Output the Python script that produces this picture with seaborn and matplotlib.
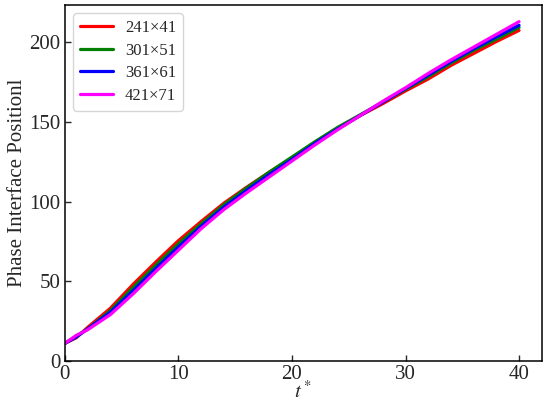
import pandas as pd
import matplotlib.pyplot as plt
import seaborn as sns

# time points (t*)
t = [0, 1, 2, 4, 6, 8, 10, 12, 14, 16, 18, 20, 22, 24, 26, 28, 30, 32, 34, 36, 38, 40]

# phase interface position per grid
pos_241 = [11, 14.5, 21, 33, 48, 62, 75.5, 87.5, 99, 109, 118.5, 127.5, 137, 146, 154, 161.5, 169.5, 177, 185.5, 193, 200.5, 207.5]
pos_301 = [11, 15.5, 20, 31.5, 46, 60, 73.5, 86, 98, 108.5, 118.5, 128, 137.5, 146.5, 154.5, 162.5, 170.5, 178.5, 187, 195, 202, 209.4]
pos_361 = [11, 15, 20, 30.5, 44, 58, 71.5, 84.5, 96.5, 107, 117, 126.5, 136.5, 145.5, 154, 162.5, 171, 179.5, 188, 196, 203.5, 210.7]
pos_421 = [11, 16, 19.5, 29, 42, 56, 69.5, 83, 95, 105.5, 115.5, 125.5, 135.5, 145, 154, 163, 171.5, 180.5, 189, 197, 205, 213]

grids = ["241×41", "301×51", "361×61", "421×71"]
colors = ["red", "green", "blue", "magenta"]

frames = []
for name, vals in zip(grids, [pos_241, pos_301, pos_361, pos_421]):
    frames.append(pd.DataFrame({"t": t, "pos": vals, "grid": name}))
df = pd.concat(frames)

sns.set_style("ticks")
plt.rcParams["font.family"] = ["Liberation Serif", "DejaVu Serif"]
plt.rcParams["mathtext.fontset"] = "stix"

fig = plt.figure(figsize=(5.5, 4.11), dpi=100)
ax = fig.add_axes([0.118, 0.122, 0.867, 0.866])

sns.lineplot(data=df, x="t", y="pos", hue="grid", palette=colors, linewidth=2.3, ax=ax)

ax.set_xlim(0, 42)
ax.set_ylim(0, 223.5)
ax.set_xticks([0, 10, 20, 30, 40])
ax.set_yticks([0, 50, 100, 150, 200])
ax.tick_params(direction="in", labelsize=15, length=4, width=1, pad=3)
for sp in ax.spines.values():
    sp.set_linewidth(1.1)
    sp.set_color("black")

ax.set_xlabel("$t^*$", fontsize=15, labelpad=-2)
ax.set_ylabel("Phase Interface Positionl", fontsize=15, labelpad=2)

ax.legend(title=None, loc="upper left", fontsize=12, handlelength=2.0,
          handletextpad=0.7, labelspacing=0.4, frameon=True, fancybox=True,
          borderaxespad=0.5)

plt.savefig("out.png", dpi=100)
